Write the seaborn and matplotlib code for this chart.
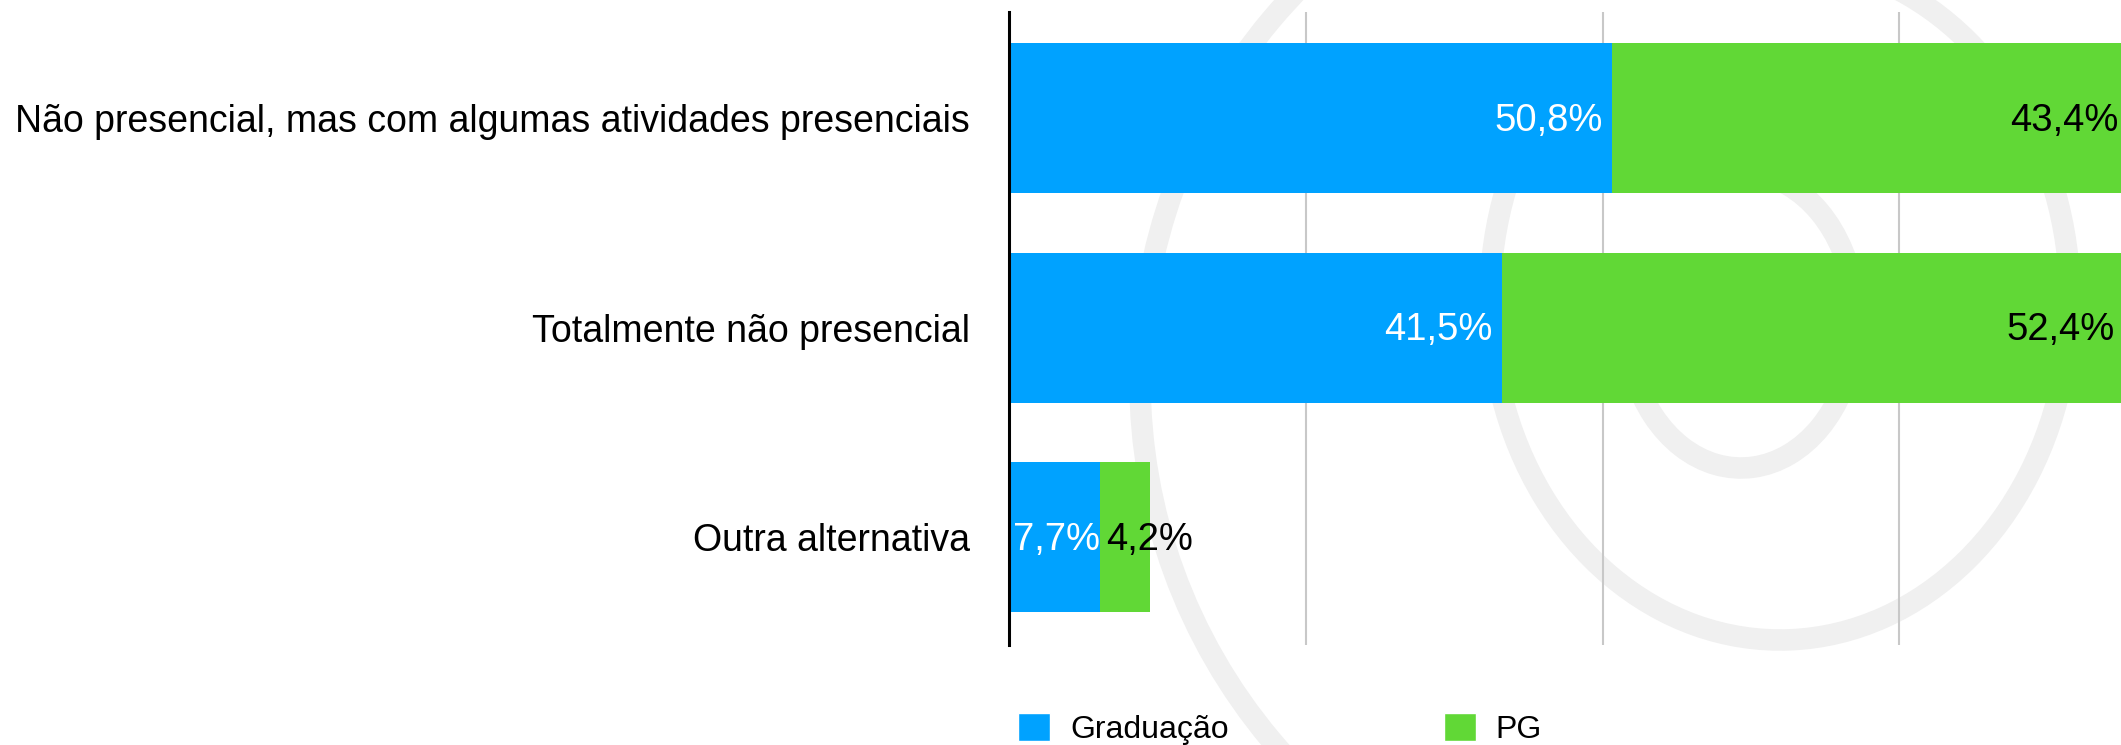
import seaborn as sns
import pandas as pd
import matplotlib.pyplot as plt
from matplotlib.patches import Patch, Arc

categorias = ['Não presencial, mas com algumas atividades presenciais',
              'Totalmente não presencial',
              'Outra alternativa']
graduacao = [50.8, 41.5, 7.7]
pg = [43.4, 52.4, 4.2]
series = ['Graduação', 'PG']

azul = '#00A2FF'
verde = '#61D836'

sns.set_style('white')
plt.rcParams['font.family'] = ['Liberation Sans', 'DejaVu Sans']
plt.rcParams['text.color'] = 'black'

df = pd.DataFrame({'categoria': categorias, 'Graduação': graduacao, 'PG': pg})
df['total'] = df['Graduação'] + df['PG']

fig = plt.figure(figsize=(21.21, 7.45), dpi=100)

# marca d'agua em espiral (arcos cinza claros, em pixels da figura)
for cx, cy, w, h, t1, t2 in [(1700, 380, 1120, 1120, 100, 260),
                             (1780, 300, 580, 680, 155, 460),
                             (1741, 320, 230, 296, 160, 460)]:
    fig.patches.append(Arc((cx / 100, (745 - cy) / 100), w / 100, h / 100,
                           theta1=t1, theta2=t2, transform=fig.dpi_scale_trans,
                           edgecolor='#f0f0f0', linewidth=15.5, capstyle='butt', zorder=-5))

ax = fig.add_axes([1009 / 2121, 100 / 745, 1187 / 2121, 633 / 745])
ax.set_facecolor('none')

sns.barplot(data=df, x='total', y='categoria', color=verde, width=0.716,
            saturation=1, linewidth=0, edgecolor='none', ax=ax, zorder=3)
sns.barplot(data=df, x='Graduação', y='categoria', color=azul, width=0.716,
            saturation=1, linewidth=0, edgecolor='none', ax=ax, zorder=4)

ax.set_xlim(0, 100)
ax.set_ylim(2.515, -0.506)
ax.set_xticks([25, 50, 75])
ax.xaxis.grid(True, color='#c8c8c8', linewidth=1.5, zorder=1)
ax.set_axisbelow(True)
for s in ['top', 'right', 'bottom']:
    ax.spines[s].set_visible(False)
ax.spines['left'].set_color('black')
ax.spines['left'].set_linewidth(2.2)
ax.spines['left'].set_zorder(6)
ax.tick_params(axis='x', length=0, labelbottom=False)
ax.tick_params(axis='y', length=0, pad=28, labelsize=27, labelcolor='black')
ax.set_xlabel('')
ax.set_ylabel('')

for i, (g, p) in enumerate(zip(graduacao, pg)):
    tg = f'{g:.1f}%'.replace('.', ',')
    tp = f'{p:.1f}%'.replace('.', ',')
    if g + p < 20:
        ax.annotate(tg, (g, i), xytext=(0, -2), textcoords='offset points',
                    ha='right', va='center', color='white', fontsize=27.5, zorder=7)
        ax.annotate(tp, (g, i), xytext=(4, -2), textcoords='offset points',
                    ha='left', va='center', color='black', fontsize=27.5, zorder=7)
    else:
        ax.annotate(tg, (g, i), xytext=(-6.5, -2), textcoords='offset points',
                    ha='right', va='center', color='white', fontsize=27.5, zorder=7)
        ax.annotate(tp, (g + p, i), xytext=(-6.5, -2), textcoords='offset points',
                    ha='right', va='center', color='black', fontsize=27.5, zorder=7)

handles = [Patch(facecolor=azul, label=series[0]), Patch(facecolor=verde, label=series[1])]
fig.legend(handles=handles, loc='center left', bbox_to_anchor=(1018 / 2121, (745 - 729) / 745),
           ncol=2, frameon=False, fontsize=23, handlelength=1.0, handleheight=1.0,
           handletextpad=0.63, columnspacing=6.73, borderpad=0, borderaxespad=0)

fig.savefig('out.png', dpi=100)
